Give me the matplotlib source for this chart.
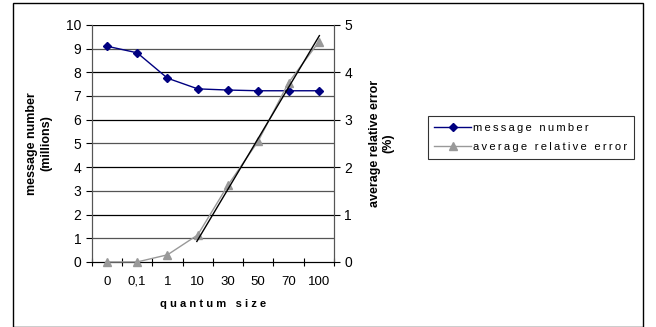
import matplotlib
matplotlib.use('Agg')
import matplotlib.pyplot as plt
from matplotlib.patches import Rectangle
import numpy as np

plt.rcParams['font.family'] = ['Liberation Sans', 'DejaVu Sans']

quantum = ['0', '0,1', '1', '10', '30', '50', '70', '100']
messages = [9.1, 8.82, 7.75, 7.3, 7.25, 7.22, 7.22, 7.22]
rel_error = [0.0, 0.0, 0.15, 0.57, 1.62, 2.55, 3.78, 4.64]


def spaced(s):
    # widen the letter spacing a little
    return '\u2009'.join(s)


fig = plt.figure(figsize=(6.56, 3.27), dpi=100)
ax = fig.add_axes([0.140, 0.199, 0.369, 0.725])
ax2 = ax.twinx()

x = np.arange(len(quantum))

# horizontal grid lines
for v in range(1, 11):
    ax.axhline(v, color='black' if v % 2 == 0 else '#555555', lw=0.9, zorder=0)

l1, = ax.plot(x, messages, color='#000080', marker='D', ms=4, lw=1, zorder=3,
              clip_on=False)
l2, = ax2.plot(x, rel_error, color='#999999', marker='^', ms=6, lw=1, zorder=3,
               clip_on=False)

# linear trend over the last five points
fx = x[3:]
k, b = np.polyfit(fx, rel_error[3:], 1)
ax2.plot([fx[0] - 0.03, fx[-1] + 0.02], [k * fx[0] + b - 0.14, k * (fx[-1] + 0.02) + b + 0.06],
         color='black', lw=1, zorder=4)

ax.set_xlim(-0.5, len(quantum) - 0.5)
ax.set_ylim(0, 10)
ax2.set_ylim(0, 5)
ax.set_yticks(range(0, 11))
ax2.set_yticks(range(0, 6))
ax.set_xticks(np.arange(-0.5, len(quantum)), minor=False)
ax.set_xticklabels([])
ax.set_xticks(x, minor=True)
ax.set_xticklabels(quantum, minor=True)
ax.tick_params(axis='x', which='major', direction='inout', length=6, width=0.8)
ax.tick_params(axis='x', which='minor', length=0, labelsize=9.5, pad=10)
ax.tick_params(axis='y', direction='out', length=4, labelsize=10)
ax2.tick_params(axis='y', direction='out', length=4, labelsize=10)

for a in (ax, ax2):
    a.spines['top'].set_visible(False)
    a.spines['left'].set_color('#555555')
    a.spines['right'].set_color('#555555')

ax.set_xlabel('q u a n t u m   s i z e', fontsize=8, fontweight='bold', labelpad=8)
ax.set_ylabel('message number\n(millions)', fontsize=9, fontweight='bold', labelpad=10)
ax2.set_ylabel('average relative error\n(%)', fontsize=9, fontweight='bold', labelpad=12)

leg = fig.legend([l1, l2], [spaced('message number'), spaced('average relative error')],
                 loc='upper left', bbox_to_anchor=(0.652, 0.645), fontsize=8,
                 frameon=True, fancybox=False, edgecolor='black', handlelength=3.3,
                 borderpad=0.6, handletextpad=0.2, labelspacing=0.85, borderaxespad=0)
leg.get_frame().set_linewidth(0.8)

fig.patches.append(Rectangle((13 / 656, 0), 630 / 656, 0.99, transform=fig.transFigure,
                             fill=False, edgecolor='black', lw=1))

plt.savefig('out.png', dpi=100)
